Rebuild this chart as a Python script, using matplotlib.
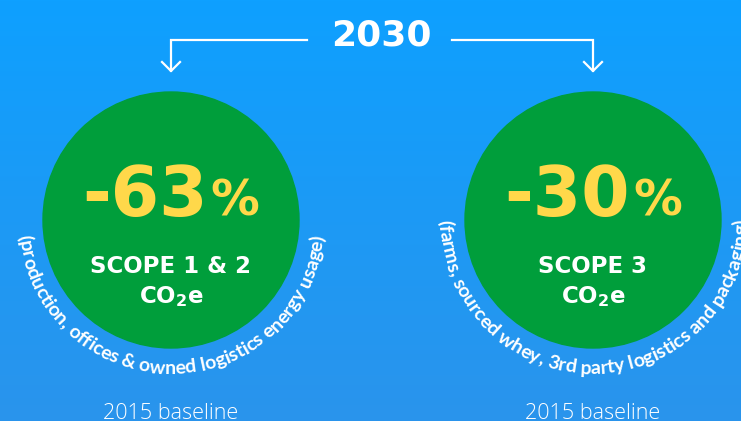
import numpy as np
import matplotlib
matplotlib.use("Agg")
import matplotlib.pyplot as plt
from matplotlib.font_manager import FontProperties
from matplotlib.patches import Circle

# data
year = "2030"
targets = [-63, -30]
scopes = ["SCOPE 1 & 2", "SCOPE 3"]
gas = "CO$_\\mathregular{2}$e"
notes = ["(production, offices & owned logistics energy usage)",
         "(farms, sourced whey, 3rd party logistics and packaging)"]
baseline = "2015 baseline"

W, H = 741, 421
centers = [(171, 220), (593, 220)]
R = 128
R_TXT = 154

fig = plt.figure(figsize=(W / 100, H / 100), dpi=100)
ax = fig.add_axes([0, 0, 1, 1])
ax.set_xlim(0, W)
ax.set_ylim(H, 0)
ax.axis('off')

# background gradient
t = np.linspace(0, 1, 256)[:, None, None]
top = np.array([14, 160, 255]) / 255
bot = np.array([42, 148, 236]) / 255
ax.imshow(top + (bot - top) * t, extent=[0, W, H, 0], aspect='auto', zorder=0)

renderer = fig.canvas.get_renderer()


def tw(s, fp):
    return renderer.get_text_width_height_descent(s, fp, ismath=False)[0]


fp_year = FontProperties(family='DejaVu Sans', weight='bold', size=26)
fp_big = FontProperties(family='DejaVu Sans', weight='bold', size=50)
fp_pct = FontProperties(family='DejaVu Sans', weight='bold', size=35)
fp_scope = FontProperties(family='DejaVu Sans', weight='bold', size=16.5)
fp_arc = FontProperties(family='Lato', weight='bold', size=14)
fp_base = FontProperties(family='Open Sans', weight='light', size=15.5)

# year header with arrows
ax.text(381, 45, year, fontproperties=fp_year, color='white', ha='center', va='baseline')
for (cx, cy), x0 in zip(centers, [307, 452]):
    ax.plot([x0, cx, cx], [40, 40, 71], color='white', lw=1.6, solid_joinstyle='miter')
    ax.plot([cx - 9, cx, cx + 9], [62, 71, 62], color='white', lw=1.6)

for (cx, cy), val, scope, note in zip(centers, targets, scopes, notes):
    ax.add_patch(Circle((cx, cy), R, color='#009e3b', zorder=1))

    num = f"{val}"
    w1 = tw(num, fp_big)
    w2 = tw("%", fp_pct)
    x_start = cx - (w1 + w2 + 3) / 2
    ax.text(x_start, 216, num, fontproperties=fp_big, color='#ffd84a', ha='left', va='baseline', zorder=2)
    ax.text(x_start + w1 + 3, 216, "%", fontproperties=fp_pct, color='#ffd84a', ha='left', va='baseline', zorder=2)

    ax.text(cx, 273, scope, fontproperties=fp_scope, color='white', ha='center', va='baseline', zorder=2)
    ax.text(cx, 303, gas, fontproperties=fp_scope, color='white', ha='center', va='baseline', zorder=2)

    # curved note under the circle
    L = tw(note, fp_arc)
    for i, ch in enumerate(note):
        if ch == ' ':
            continue
        s = tw(note[:i + 1], fp_arc) - tw(ch, fp_arc) / 2
        th = 1.5 * np.pi + (s - L / 2) / R_TXT
        x = cx + R_TXT * np.cos(th)
        y = cy - R_TXT * np.sin(th)
        ax.text(x, y, ch, fontproperties=fp_arc, color='white', rotation=np.degrees(th) + 90,
                rotation_mode='anchor', ha='center', va='baseline', zorder=3)

    ax.text(cx, 419, baseline, fontproperties=fp_base, color='white', ha='center', va='baseline')

fig.savefig("out.png", dpi=100)
